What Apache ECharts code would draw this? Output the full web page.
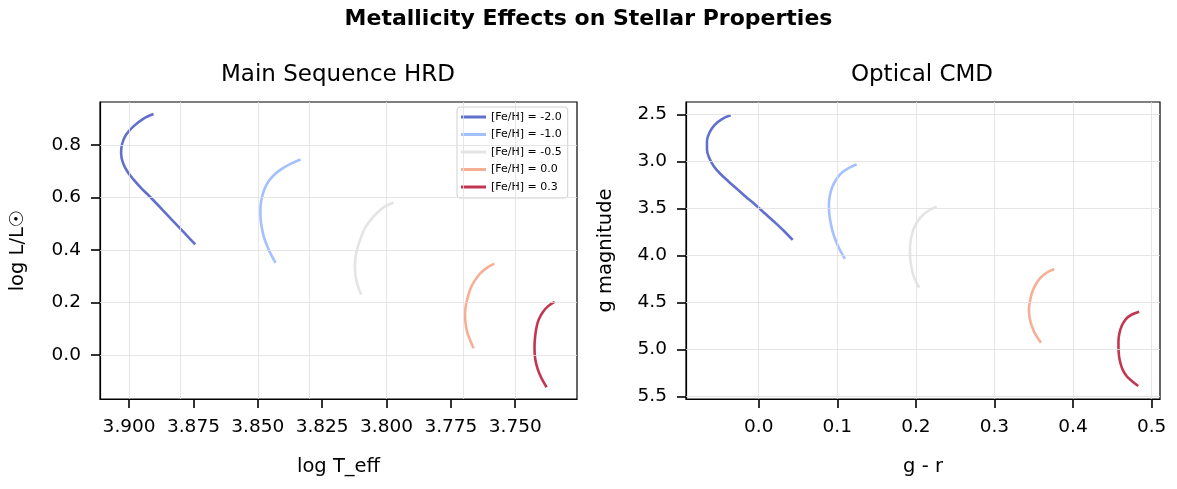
<!DOCTYPE html>
<html>
<head>
<meta charset="utf-8">
<script src="https://cdn.jsdelivr.net/npm/echarts@6/dist/echarts.min.js"></script>
<style>
    html, body { margin: 0; padding: 0; background: #fff; }
    #chart { width: 1177px; height: 489px; }
</style>
</head>
<body>
<div id="chart"></div>
<script>
// metallicity labels
var fehNames = ['[Fe/H] = -2.0', '[Fe/H] = -1.0', '[Fe/H] = -0.5', '[Fe/H] = 0.0', '[Fe/H] = 0.3'];
var fehColors = ['#6170cd', '#a4c0fe', '#e4e4e4', '#f6ae95', '#c33651'];

// HRD tracks: [log T_eff, log L/Lsun]
var hrdM20 = [[3.8905, 0.918], [3.8945, 0.900], [3.8982, 0.872], [3.9012, 0.839], [3.9027, 0.805], [3.9031, 0.770], [3.9025, 0.736], [3.9008, 0.701], [3.8984, 0.670], [3.8953, 0.636], [3.8918, 0.602], [3.8873, 0.556], [3.8829, 0.510], [3.8786, 0.466], [3.8743, 0.421]];
var hrdM10 = [[3.8334, 0.745], [3.8373, 0.728], [3.8410, 0.707], [3.8441, 0.682], [3.8464, 0.653], [3.8478, 0.621], [3.8487, 0.586], [3.8490, 0.552], [3.8489, 0.517], [3.8484, 0.483], [3.8476, 0.448], [3.8464, 0.416], [3.8449, 0.383], [3.8431, 0.351]];
var hrdM05 = [[3.7973, 0.581], [3.8007, 0.565], [3.8036, 0.542], [3.8063, 0.513], [3.8085, 0.481], [3.8100, 0.446], [3.8112, 0.410], [3.8120, 0.374], [3.8123, 0.337], [3.8120, 0.301], [3.8112, 0.264], [3.8098, 0.230]];
var hrdP00 = [[3.7581, 0.348], [3.7609, 0.333], [3.7635, 0.312], [3.7656, 0.285], [3.7672, 0.257], [3.7683, 0.224], [3.7691, 0.192], [3.7695, 0.157], [3.7693, 0.123], [3.7687, 0.088], [3.7675, 0.056], [3.7662, 0.025]];
var hrdP03 = [[3.7347, 0.202], [3.7372, 0.186], [3.7393, 0.163], [3.7409, 0.134], [3.7418, 0.102], [3.7423, 0.067], [3.7425, 0.033], [3.7424, -0.002], [3.7418, -0.036], [3.7407, -0.069], [3.7393, -0.098], [3.7378, -0.123]];

// CMD tracks: [g - r, g]
var cmdM20 = [[-0.0356, 2.509], [-0.0467, 2.548], [-0.0562, 2.612], [-0.0626, 2.691], [-0.0658, 2.782], [-0.0658, 2.878], [-0.0626, 2.968], [-0.0569, 3.053], [-0.0492, 3.128], [-0.0391, 3.207], [-0.0282, 3.287], [-0.0168, 3.372], [-0.0047, 3.457], [0.0080, 3.553], [0.0201, 3.644], [0.0322, 3.739], [0.0433, 3.835]];
var cmdM10 = [[0.1247, 3.030], [0.1149, 3.069], [0.1060, 3.117], [0.0990, 3.186], [0.0939, 3.266], [0.0907, 3.356], [0.0894, 3.452], [0.0897, 3.548], [0.0914, 3.644], [0.0939, 3.739], [0.0977, 3.835], [0.1028, 3.931], [0.1098, 4.037]];
var cmdM05 = [[0.2265, 3.481], [0.2173, 3.516], [0.2090, 3.569], [0.2020, 3.638], [0.1969, 3.723], [0.1938, 3.819], [0.1925, 3.920], [0.1927, 4.021], [0.1944, 4.122], [0.1976, 4.229], [0.2043, 4.343]];
var cmdP00 = [[0.3761, 4.147], [0.3668, 4.181], [0.3585, 4.239], [0.3522, 4.314], [0.3477, 4.399], [0.3452, 4.489], [0.3439, 4.580], [0.3449, 4.665], [0.3477, 4.755], [0.3522, 4.840], [0.3592, 4.928]];
var cmdP03 = [[0.4842, 4.598], [0.4749, 4.628], [0.4673, 4.676], [0.4622, 4.745], [0.4590, 4.830], [0.4578, 4.920], [0.4580, 5.016], [0.4594, 5.112], [0.4628, 5.207], [0.4686, 5.287], [0.4756, 5.340], [0.4830, 5.388]];

// tick values
var hrdXTicks = [3.75, 3.775, 3.8, 3.825, 3.85, 3.875, 3.9];
var hrdYTicks = [0, 0.2, 0.4, 0.6, 0.8];
var cmdXTicks = [0, 0.1, 0.2, 0.3, 0.4, 0.5];
var cmdYTicks = [2.5, 3, 3.5, 4, 4.5, 5, 5.5];

var hrdTracks = [hrdM20, hrdM10, hrdM05, hrdP00, hrdP03];
var cmdTracks = [cmdM20, cmdM10, cmdM05, cmdP00, cmdP03];

var font = 'DejaVu Sans';
var chart = echarts.init(document.getElementById('chart'), null, { renderer: 'canvas' });

function makeAxis(opt) {
    return {
        type: 'value',
        gridIndex: opt.grid,
        min: opt.min,
        max: opt.max,
        inverse: !!opt.inverse,
        name: opt.name,
        nameLocation: 'middle',
        nameGap: opt.nameGap,
        nameRotate: opt.rotate,
        nameTextStyle: { fontFamily: font, fontSize: 19.5, color: '#000' },
        axisLine: { show: true, onZero: false, lineStyle: { color: '#000', width: 1.2 } },
        axisTick: { show: true, length: 9, lineStyle: { color: '#000', width: 1.6 }, customValues: opt.ticks },
        axisLabel: {
            fontFamily: font, fontSize: 18.5, color: '#000', margin: 19,
            customValues: opt.ticks,
            formatter: function (v) { return v.toFixed(opt.digits); }
        },
        splitLine: { show: false }
    };
}

// light grid lines drawn as markLines on the axis scales
function gridLines(values, dim) {
    return values.map(function (v) {
        var o = {};
        o[dim] = v;
        return o;
    });
}

var series = [];
fehNames.forEach(function (name, i) {
    series.push({
        name: name, type: 'line', xAxisIndex: 0, yAxisIndex: 0,
        data: hrdTracks[i], smooth: 0.35, symbol: 'none', z: 3,
        lineStyle: { color: fehColors[i], width: 2.6 }, itemStyle: { color: fehColors[i] }
    });
    series.push({
        name: name, type: 'line', xAxisIndex: 1, yAxisIndex: 1,
        data: cmdTracks[i], smooth: 0.35, symbol: 'none', z: 3,
        lineStyle: { color: fehColors[i], width: 2.6 }, itemStyle: { color: fehColors[i] }
    });
});
// grid series
series.push({
    type: 'line', xAxisIndex: 0, yAxisIndex: 0, data: [], silent: true, z: 1,
    markLine: {
        silent: true, symbol: 'none', label: { show: false },
        lineStyle: { color: '#e0e0e0', width: 0.8, type: 'solid' }, animation: false,
        data: gridLines(hrdXTicks, 'xAxis').concat(gridLines(hrdYTicks, 'yAxis'))
    }
});
series.push({
    type: 'line', xAxisIndex: 1, yAxisIndex: 1, data: [], silent: true, z: 1,
    markLine: {
        silent: true, symbol: 'none', label: { show: false },
        lineStyle: { color: '#e0e0e0', width: 0.8, type: 'solid' }, animation: false,
        data: gridLines(cmdXTicks, 'xAxis').concat(gridLines(cmdYTicks, 'yAxis'))
    }
});

var option = {
    animation: false,
    backgroundColor: '#fff',
    title: [
        { text: 'Metallicity Effects on Stellar Properties', left: 'center', top: 3,
          textStyle: { fontFamily: font, fontSize: 22, fontWeight: 'bold', color: '#000' } },
        { text: 'Main Sequence HRD', left: 333, top: 59, textAlign: 'center',
          textStyle: { fontFamily: font, fontSize: 23, fontWeight: 'normal', color: '#000' } },
        { text: 'Optical CMD', left: 917, top: 59, textAlign: 'center',
          textStyle: { fontFamily: font, fontSize: 23, fontWeight: 'normal', color: '#000' } }
    ],
    legend: {
        data: fehNames,
        orient: 'vertical',
        left: 457, top: 107,
        icon: 'rect',
        itemWidth: 25, itemHeight: 3, itemGap: 5.5,
        padding: [4, 6, 5, 4],
        backgroundColor: '#fff',
        borderColor: '#d0d0d0', borderWidth: 1, borderRadius: 3,
        textStyle: { fontFamily: font, fontSize: 11, lineHeight: 12, color: '#000' }
    },
    grid: [
        { left: 100, top: 102, width: 477, height: 297, show: true, borderColor: '#000', borderWidth: 1.2, backgroundColor: 'transparent' },
        { left: 686, top: 102, width: 474, height: 297, show: true, borderColor: '#000', borderWidth: 1.2, backgroundColor: 'transparent' }
    ],
    xAxis: [
        makeAxis({ grid: 0, min: 3.726, max: 3.9113, inverse: true, name: 'log T_eff', nameGap: 58, ticks: hrdXTicks, digits: 3 }),
        makeAxis({ grid: 1, min: -0.0925, max: 0.5107, name: 'g - r', nameGap: 58, ticks: cmdXTicks, digits: 1 })
    ],
    yAxis: [
        makeAxis({ grid: 0, min: -0.168, max: 0.964, name: 'log L/L\u2609', nameGap: 72, rotate: 90, ticks: hrdYTicks, digits: 1 }),
        makeAxis({ grid: 1, min: 2.367, max: 5.527, inverse: true, name: 'g magnitude', nameGap: 70, rotate: 90, ticks: cmdYTicks, digits: 1 })
    ],
    series: series
};
chart.setOption(option);
</script>
</body>
</html>
